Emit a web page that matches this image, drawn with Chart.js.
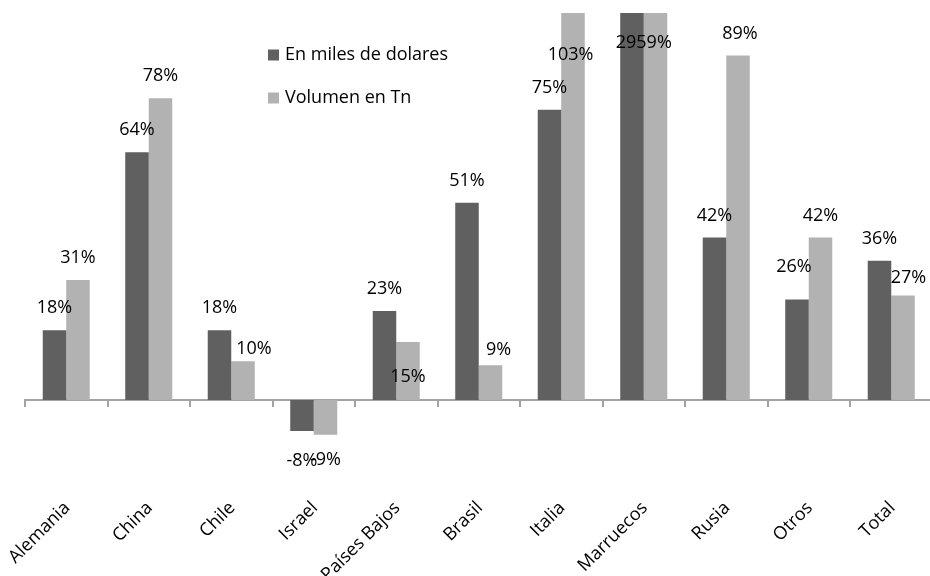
<!DOCTYPE html>
<html>
<head>
<meta charset="utf-8">
<script src="https://cdn.jsdelivr.net/npm/chart.js@4.4.1/dist/chart.umd.min.js"></script>
<style>
  html, body { margin: 0; padding: 0; background: #ffffff; overflow: hidden; }
  #wrap { position: relative; width: 933px; height: 576px; }
</style>
</head>
<body>
<div id="wrap"><canvas id="chart"></canvas></div>
<script>
const categories = ["Alemania", "China", "Chile", "Israel", "Países Bajos", "Brasil", "Italia", "Marruecos", "Rusia", "Otros", "Total"];
const milesDolares = [0.18, 0.64, 0.18, -0.08, 0.23, 0.51, 0.75, 29.59, 0.42, 0.26, 0.36];
const volumenTn = [0.31, 0.78, 0.10, -0.09, 0.15, 0.09, 1.03, 29.59, 0.89, 0.42, 0.27];

// small label nudges (px) where the original moved a label off its default spot
const nudgeDark = [[0, 0], [0, 0], [0, 0], [0, 3], [0, 0], [0, 0], [0, 0], [11.75, 52], [0, 0], [-3, -11], [0, 0]];
const nudgeLight = [[0, 0], [0, 0], [11, 10], [0, -2], [0, 57], [8, 7], [-2.5, 64], [-11.75, 52], [2, 0], [0, 0], [5.5, 4]];

const FONT = "\"Open Sans\", \"DejaVu Sans\", sans-serif";
const DARK = "#606060";
const LIGHT = "#b2b2b2";
const AXIS = "#a3a3a3";

Chart.register({
  id: "barValueLabels",
  afterDatasetsDraw(chart) {
    const ctx = chart.ctx;
    const area = chart.chartArea;
    const nudges = [nudgeDark, nudgeLight];
    const drawn = new Set();
    ctx.save();
    ctx.font = `18px ${FONT}`;
    ctx.fillStyle = "#000000";
    ctx.textAlign = "center";
    ctx.textBaseline = "middle";
    chart.data.datasets.forEach((ds, di) => {
      const meta = chart.getDatasetMeta(di);
      meta.data.forEach((bar, i) => {
        const v = ds.data[i];
        if (v === null || v === undefined) return;
        const [dx, dy] = nudges[di][i];
        let y;
        if (v >= 0) {
          y = Math.max(bar.y, area.top) - 22;
        } else {
          y = bar.y + 27;
        }
        const text = Math.round(v * 100) + "%";
        const x = bar.x + dx;
        const key = text + "@" + Math.round(x) + "," + Math.round(y + dy);
        if (drawn.has(key)) return;
        drawn.add(key);
        ctx.fillText(text, x, y + dy);
      });
    });
    ctx.restore();
  }
});

Chart.register({
  id: "insetLegend",
  afterDraw(chart) {
    const ctx = chart.ctx;
    ctx.save();
    ctx.font = `18px ${FONT}`;
    ctx.textAlign = "left";
    ctx.textBaseline = "middle";
    chart.data.datasets.forEach((ds, i) => {
      const y = 55 + i * 43;
      ctx.fillStyle = ds.backgroundColor;
      ctx.fillRect(268, y - 5.5, 11, 11);
      ctx.fillStyle = "#000000";
      ctx.fillText(ds.label, 285, y);
    });
    ctx.restore();
  }
});

new Chart(document.getElementById("chart"), {
  type: "bar",
  data: {
    labels: categories,
    datasets: [
      {
        label: "En miles de dolares",
        data: milesDolares,
        backgroundColor: DARK,
        categoryPercentage: 0.57,
        barPercentage: 1.0
      },
      {
        label: "Volumen en Tn",
        data: volumenTn,
        backgroundColor: LIGHT,
        categoryPercentage: 0.57,
        barPercentage: 1.0
      }
    ]
  },
  options: {
    responsive: true,
    maintainAspectRatio: false,
    animation: false,
    layout: {
      padding: { top: 13, right: 0.5, bottom: 0, left: 25 }
    },
    plugins: {
      legend: { display: false },
      tooltip: { enabled: false }
    },
    scales: {
      x: {
        position: { y: 0 },
        offset: true,
        ticks: { display: false },
        grid: {
          display: true,
          drawOnChartArea: false,
          drawTicks: true,
          tickLength: 6,
          color: AXIS,
          lineWidth: 2
        },
        border: { display: true, color: AXIS, width: 2 }
      },
      x2: {
        type: "category",
        position: "bottom",
        offset: true,
        grid: { display: false },
        border: { display: false },
        afterFit: (scale) => {
          scale.height = 98.6;
          scale.paddingLeft = 0;
          scale.paddingRight = 0;
        },
        ticks: {
          autoSkip: false,
          minRotation: 45,
          maxRotation: 45,
          padding: 12,
          labelOffset: 1,
          color: "#000000",
          font: { family: FONT, size: 18 }
        }
      },
      y: {
        display: false,
        min: -0.2,
        max: 1.0
      }
    }
  }
});
</script>
</body>
</html>
